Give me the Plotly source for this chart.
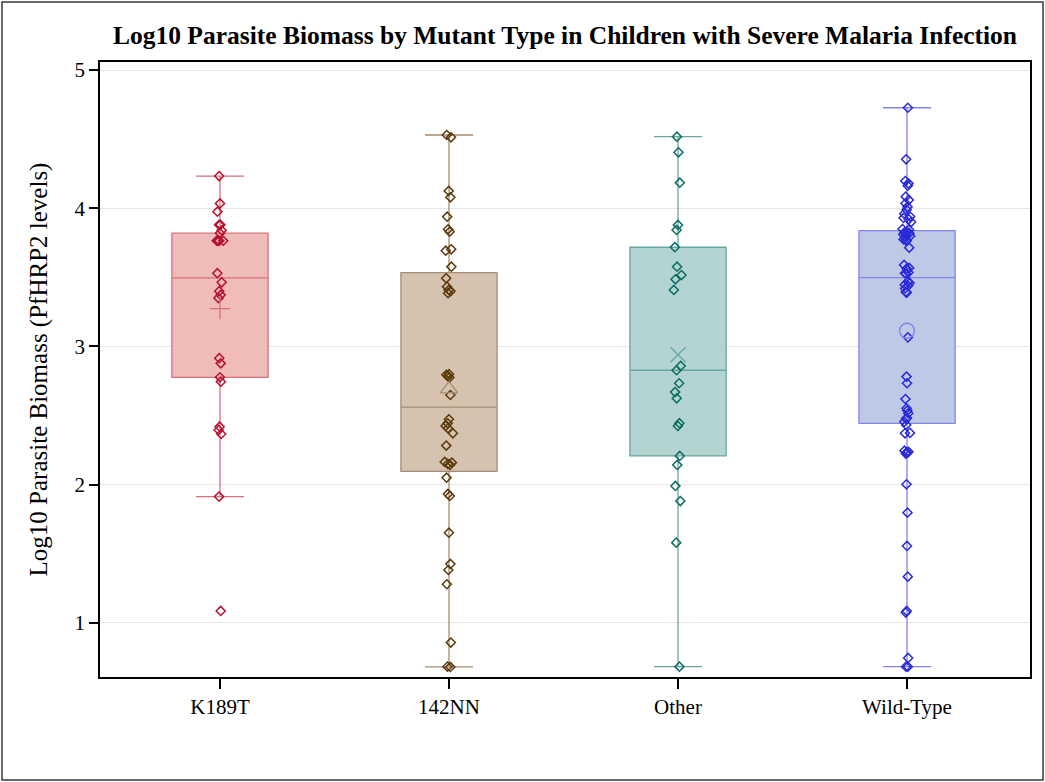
import numpy as np
import plotly.graph_objects as go

categories = ["K189T", "142NN", "Other", "Wild-Type"]

k189t = [1.087, 1.914, 2.367, 2.396, 2.42, 2.745, 2.777, 2.878, 2.915,
         3.35, 3.373, 3.40, 3.464, 3.53,
         3.765, 3.765, 3.765, 3.765, 3.765,
         3.82, 3.84, 3.88, 3.88, 3.975, 4.035, 4.233]

nn142 = [0.682, 0.684, 0.858, 1.28, 1.383, 1.427, 1.653, 1.919, 1.933, 2.051,
         2.143, 2.15, 2.16, 2.165, 2.283, 2.372, 2.408, 2.425, 2.444, 2.473,
         2.649, 2.775, 2.785, 2.795, 2.80, 3.385, 3.40, 3.409, 3.433, 3.493,
         3.577, 3.693, 3.703, 3.83, 3.848, 3.939, 4.079, 4.125, 4.513, 4.53]

other = [0.684, 1.581, 1.882, 1.991, 2.143, 2.208, 2.425, 2.445,
         2.625, 2.67, 2.734, 2.828, 2.859,
         3.409, 3.486, 3.517, 3.577, 3.718, 3.843, 3.879, 4.185, 4.405, 4.518]

wild = [0.684, 0.684, 0.747, 1.075, 1.087, 1.335, 1.557, 1.798, 2.003,
        2.225, 2.232, 2.232, 2.238, 2.246, 2.372, 2.375, 2.432,
        2.456, 2.478, 2.482, 2.517, 2.536, 2.553, 2.62, 2.734, 2.782,
        3.066, 3.39, 3.394, 3.42, 3.44, 3.447, 3.46, 3.469,
        3.528, 3.53, 3.535, 3.563, 3.568, 3.59, 3.715, 3.765, 3.77,
        3.775, 3.79, 3.80, 3.806, 3.81, 3.82, 3.826, 3.83,
        3.845, 3.85, 3.90, 3.92, 3.93, 3.94, 3.96, 3.99, 4.01,
        4.036, 4.06, 4.084, 4.163, 4.18, 4.197, 4.354, 4.727]

groups = [k189t, nn142, other, wild]

fill_colors = ["#EFBCB9", "#D5C3AF", "#B3D4D2", "#BDC9E5"]
line_colors = ["#D8717E", "#A58D73", "#67A7A1", "#8383EC"]
marker_colors = ["#B8122F", "#5C390B", "#0C6E62", "#2A2AD8"]
mean_symbols = ["cross-thin-open", "triangle-up-open", "x-thin-open", "circle-open"]

FONT = "Liberation Serif"

fig = go.Figure()
for cat, vals, fc, lc, mc in zip(categories, groups, fill_colors, line_colors, marker_colors):
    fig.add_trace(go.Box(
        x=[cat] * len(vals), y=vals, name=cat,
        boxpoints="all", jitter=0.1, pointpos=0,
        quartilemethod="exclusive",
        fillcolor=fc, line=dict(color=lc, width=1.3),
        whiskerwidth=0.5, width=0.42,
        marker=dict(symbol="diamond-open", size=7, color=mc,
                    line=dict(width=1.5, color=mc)),
        hoverinfo="y",
    ))

for cat, vals, lc, sym in zip(categories, groups, line_colors, mean_symbols):
    fig.add_trace(go.Scatter(
        x=[cat], y=[float(np.mean(vals))], mode="markers",
        marker=dict(symbol=sym, size=15, color=lc, line=dict(width=1.3, color=lc)),
        hoverinfo="y",
    ))

fig.update_layout(
    width=1045, height=782,
    margin=dict(l=100, r=15, t=62, b=105),
    paper_bgcolor="white", plot_bgcolor="white",
    showlegend=False, boxmode="overlay",
    font=dict(family=FONT, color="black", size=21),
    title=dict(text="<b>Log10 Parasite Biomass by Mutant Type in Children with Severe Malaria Infection</b>",
               x=0.5, xref="paper", xanchor="center",
               y=1 - 35 / 782, yref="container", yanchor="middle",
               font=dict(family=FONT, size=25.5, color="black")),
    xaxis=dict(type="category", categoryorder="array", categoryarray=categories,
               range=[-0.524, 3.537],
               showline=True, linecolor="black", linewidth=1.5, mirror=True,
               ticks="outside", ticklen=10, tickwidth=1.5, tickcolor="black",
               tickfont=dict(family=FONT, size=21), showgrid=False, zeroline=False),
    yaxis=dict(range=[0.609, 5.058], tickvals=[1, 2, 3, 4, 5],
               showline=True, linecolor="black", linewidth=1.5, mirror=True,
               ticks="outside", ticklen=9, tickwidth=1.5, tickcolor="black",
               tickfont=dict(family=FONT, size=21),
               showgrid=True, gridcolor="#E6E6E6", gridwidth=1, zeroline=False,
               title=dict(text="Log10 Parasite Biomass (PfHRP2 levels)",
                          font=dict(family=FONT, size=25), standoff=20)),
)

fig.add_shape(type="rect", xref="paper", yref="paper",
              x0=(2 - 100) / 930, x1=(1043 - 100) / 930,
              y0=(677 - 780) / 615, y1=(677 - 2) / 615,
              line=dict(color="#3A3A3A", width=1.5), layer="below")

fig.write_html("out.html",
               config={"displayModeBar": False},
               post_script="document.body.style.margin='0';document.body.style.overflow='hidden';")
